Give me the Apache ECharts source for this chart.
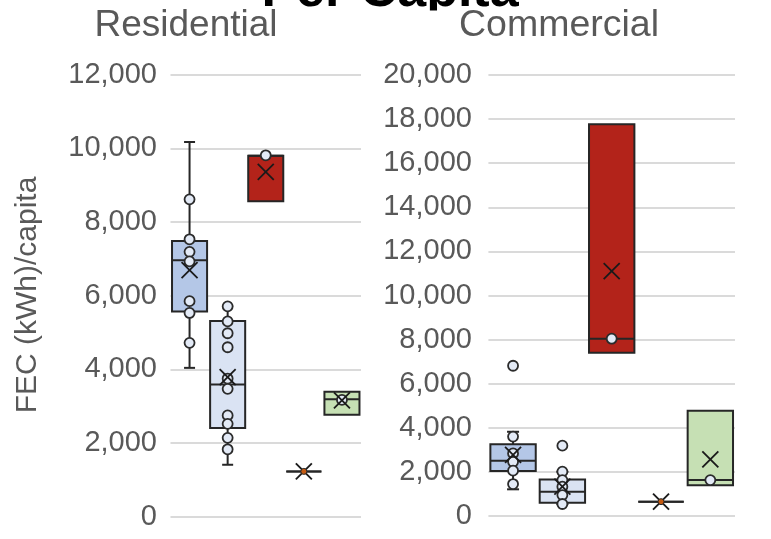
<!DOCTYPE html>
<html>
<head>
<meta charset="utf-8">
<script src="https://cdn.jsdelivr.net/npm/echarts@6/dist/echarts.min.js"></script>
<style>
  html, body { margin: 0; padding: 0; background: #fff; }
  #chart { width: 771px; height: 539px; }
</style>
</head>
<body>
<div id="chart"></div>
<script>
// Five groups per sector (unlabelled on the chart)
const categories = ['g1', 'g2', 'g3', 'g4', 'g5'];

// Residential: [min, Q1, median, Q3, max] per group
const resBoxes = [
  [4040, 5570, 6960, 7480, 10170],
  [1410, 2410, 3590, 5310, 5710],
  [8560, 8560, 9800, 9800, 9800],
  [1230, 1230, 1230, 1230, 1230],
  [2770, 2770, 3185, 3390, 3390]
];
const resMeans = [6690, 3790, 9360, 1230, 3160];
const resPoints = [
  [8615, 7530, 7190, 6930, 5850, 5530, 4720],
  [5710, 5300, 4980, 4600, 3750, 3470, 2750, 2520, 2140, 1830],
  [9810],
  [],
  [3170]
];
const resSingle = [null, null, null, 1230, null];

// Commercial: [min, Q1, median, Q3, max] per group
const comBoxes = [
  [1210, 2040, 2510, 3250, 3820],
  [540, 600, 1100, 1660, 2010],
  [7400, 7400, 8040, 17770, 17770],
  [650, 650, 650, 650, 650],
  [1400, 1400, 1630, 4770, 4770]
];
const comMeans = [2770, 1330, 11110, 650, 2570];
const comPoints = [
  [6815, 3600, 2840, 2460, 2055, 1450],
  [3190, 2010, 1630, 1330, 950, 545],
  [8040],
  [],
  [1630]
];
const comSingle = [null, null, null, 650, null];

// Axis ranges
const resMax = 12000, comMax = 20000, tickStep = 2000;

// Styling
const boxFill = ['#b4c7e7', '#dae3f3', '#b3231a', '#f4b183', '#c6e0b4'];
const ink = '#262626';
const labelGrey = '#595959';
const fontStack = '"Liberation Sans", Arial, sans-serif';

function boxRenderer(fill, widthFrac, capHalf) {
  return function (params, api) {
    const c = api.value(0);
    const lo = api.coord([c, api.value(1)]);
    const q1 = api.coord([c, api.value(2)]);
    const md = api.coord([c, api.value(3)]);
    const q3 = api.coord([c, api.value(4)]);
    const hi = api.coord([c, api.value(5)]);
    const band = api.size([1, 0])[0];
    const w = band * widthFrac;
    const x = md[0];
    const line = { stroke: ink, lineWidth: 2 };
    const kids = [];
    if (hi[1] < q3[1] - 0.5) {
      kids.push({ type: 'line', shape: { x1: x, y1: q3[1], x2: x, y2: hi[1] }, style: line });
      kids.push({ type: 'line', shape: { x1: x - capHalf, y1: hi[1], x2: x + capHalf, y2: hi[1] }, style: line });
    }
    if (lo[1] > q1[1] + 0.5) {
      kids.push({ type: 'line', shape: { x1: x, y1: q1[1], x2: x, y2: lo[1] }, style: line });
      kids.push({ type: 'line', shape: { x1: x - capHalf, y1: lo[1], x2: x + capHalf, y2: lo[1] }, style: line });
    }
    kids.push({
      type: 'rect',
      shape: { x: x - w / 2, y: q3[1], width: w, height: q1[1] - q3[1] },
      style: { fill: fill[params.dataIndex], stroke: ink, lineWidth: 2 }
    });
    kids.push({ type: 'line', shape: { x1: x - w / 2, y1: md[1], x2: x + w / 2, y2: md[1] }, style: line });
    return { type: 'group', children: kids };
  };
}

function meanRenderer(half) {
  return function (params, api) {
    const p = api.coord([api.value(0), api.value(1)]);
    const st = { stroke: '#1a1a1a', lineWidth: 1.8 };
    return {
      type: 'group',
      children: [
        { type: 'line', shape: { x1: p[0] - half, y1: p[1] - half, x2: p[0] + half, y2: p[1] + half }, style: st },
        { type: 'line', shape: { x1: p[0] - half, y1: p[1] + half, x2: p[0] + half, y2: p[1] - half }, style: st }
      ]
    };
  };
}

function panelSeries(idx, boxes, means, points, single, widthFrac, capHalf) {
  const boxData = boxes.map((b, i) => [i].concat(b));
  const meanData = means.map((m, i) => [i, m]);
  const ptData = [];
  points.forEach((arr, i) => arr.forEach(v => ptData.push([i, v])));
  const singleData = [];
  single.forEach((v, i) => { if (v !== null) singleData.push([i, v]); });
  return [
    {
      type: 'custom', xAxisIndex: idx, yAxisIndex: idx, z: 2,
      renderItem: boxRenderer(boxFill, widthFrac, capHalf),
      encode: { x: 0, y: [1, 2, 3, 4, 5] },
      data: boxData, silent: true
    },
    {
      type: 'scatter', xAxisIndex: idx, yAxisIndex: idx, z: 3,
      symbol: 'circle', symbolSize: 10,
      itemStyle: { color: '#e3eaf6', borderColor: '#2b2b2b', borderWidth: 1.8, opacity: 1 },
      data: ptData, silent: true
    },
    {
      type: 'custom', xAxisIndex: idx, yAxisIndex: idx, z: 4,
      renderItem: meanRenderer(8),
      encode: { x: 0, y: 1 },
      data: meanData, silent: true
    },
    {
      type: 'scatter', xAxisIndex: idx, yAxisIndex: idx, z: 5,
      symbol: 'circle', symbolSize: 6,
      itemStyle: { color: '#c55a11', borderColor: '#2b2b2b', borderWidth: 1, opacity: 1 },
      data: singleData, silent: true
    }
  ];
}

function valueAxis(idx, max, margin) {
  return {
    type: 'value', gridIndex: idx, min: 0, max: max, interval: tickStep,
    axisLine: { show: false }, axisTick: { show: false },
    axisLabel: {
      color: labelGrey, fontSize: 29, fontFamily: fontStack,
      margin: margin,
      formatter: v => v.toLocaleString('en-US')
    },
    splitLine: { lineStyle: { color: '#dadada', width: 2 } }
  };
}

const chart = echarts.init(document.getElementById('chart'), null, { renderer: 'canvas' });
chart.setOption({
  animation: false,
  backgroundColor: '#ffffff',
  grid: [
    { left: 170.5, top: 74.6, width: 190.5, height: 442.1 },
    { left: 488.4, top: 75, width: 246.6, height: 441 }
  ],
  xAxis: [
    { type: 'category', gridIndex: 0, data: categories, show: false },
    { type: 'category', gridIndex: 1, data: categories, show: false }
  ],
  yAxis: [valueAxis(0, resMax, 13.5), valueAxis(1, comMax, 16.5)],
  graphic: [
    {
      type: 'text', z: 10,
      style: {
        text: 'Per Capita', x: 390, y: -8, align: 'center', verticalAlign: 'middle',
        font: 'bold 52px ' + fontStack, fill: '#000'
      }
    },
    {
      type: 'rect', z: 11,
      shape: { x: 424, y: 10.5, width: 34, height: 14 },
      style: { fill: '#ffffff' }
    },
    {
      type: 'text', z: 12,
      style: {
        text: 'Residential', x: 186, y: 25.5, align: 'center', verticalAlign: 'middle',
        font: '37px ' + fontStack, fill: labelGrey
      }
    },
    {
      type: 'text', z: 12,
      style: {
        text: 'Commercial', x: 559, y: 25.5, align: 'center', verticalAlign: 'middle',
        font: '37.5px ' + fontStack, fill: labelGrey
      }
    },
    {
      type: 'text', z: 12, x: 28, y: 295, rotation: Math.PI / 2,
      style: {
        text: 'FEC (kWh)/capita', x: 0, y: 0, align: 'center', verticalAlign: 'middle',
        font: '30px ' + fontStack, fill: labelGrey
      }
    }
  ],
  series: [].concat(
    panelSeries(0, resBoxes, resMeans, resPoints, resSingle, 0.92, 5.5),
    panelSeries(1, comBoxes, comMeans, comPoints, comSingle, 0.92, 6)
  )
});
</script>
</body>
</html>
